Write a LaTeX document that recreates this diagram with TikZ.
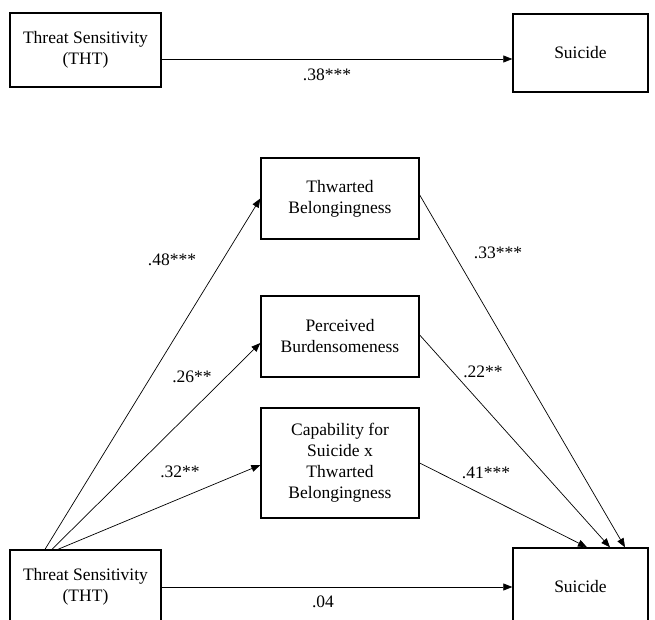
\documentclass[tikz,border=0pt]{standalone}
\usepackage{fontspec}
\setmainfont{Liberation Serif}
\usetikzlibrary{arrows.meta}

\tikzset{
  varbox/.style={draw, line width=1.4pt, align=center, inner sep=0pt,
    font=\fontsize{17.5}{21}\selectfont},
  pathlbl/.style={inner sep=0pt, font=\fontsize{17.5}{21}\selectfont},
  effect/.style={-{Triangle[length=9pt,width=7pt]}, line width=0.7pt},
}

\begin{document}
\begin{tikzpicture}[x=1pt,y=-1pt]
  \useasboundingbox (0,0) rectangle (655,619);

  % total effect
  \node[varbox, minimum width=151pt, minimum height=74pt] (thta) at (85.5,50) {Threat Sensitivity\\(THT)};
  \node[varbox, minimum width=135pt, minimum height=78pt] (suia) at (580.5,53) {Suicide};
  \draw[effect] ([yshift=-9pt]thta.east) -- ([yshift=-6pt]suia.west);
  \node[pathlbl] (l38) at (327,75) {.38***};

  % mediation model
  \node[varbox, minimum width=158pt, minimum height=81pt] (tb) at (340,198.5) {Thwarted\\Belongingness};
  \node[varbox, minimum width=158pt, minimum height=81pt] (pb) at (340,336.5) {Perceived\\Burdensomeness};
  \node[varbox, minimum width=158pt, minimum height=110pt] (cs) at (340,463) {Capability for\\Suicide x\\Thwarted\\Belongingness};
  \node[varbox, minimum width=151pt, minimum height=74pt] (thtb) at (85.5,587) {Threat Sensitivity\\(THT)};
  \node[varbox, minimum width=135pt, minimum height=78pt] (suib) at (580.5,587) {Suicide};

  \draw[effect] ([xshift=-40.5pt]thtb.north) -- (tb.west);
  \draw[effect] ([xshift=-33.5pt]thtb.north) -- ([yshift=-6.5pt]pb.west);
  \draw[effect] ([xshift=-27.5pt]thtb.north) -- ([yshift=-2pt]cs.west);
  \draw[effect] ([yshift=3.5pt]tb.east) -- ([xshift=44.5pt]suib.north);
  \draw[effect] ([yshift=1.5pt]pb.east) -- ([xshift=29.5pt]suib.north);
  \draw[effect] (cs.east) -- ([xshift=6.5pt]suib.north);
  \draw[effect] (thtb.east) -- (suib.west);

  \node[pathlbl] (l48) at (172,260) {.48***};
  \node[pathlbl] (l26) at (192,377) {.26**};
  \node[pathlbl] (l32) at (180,472) {.32**};
  \node[pathlbl] (l33) at (498,253) {.33***};
  \node[pathlbl] (l22) at (483,372) {.22**};
  \node[pathlbl] (l41) at (486,473) {.41***};
  \node[pathlbl] (l04) at (323,602) {.04};
\end{tikzpicture}
\end{document}
